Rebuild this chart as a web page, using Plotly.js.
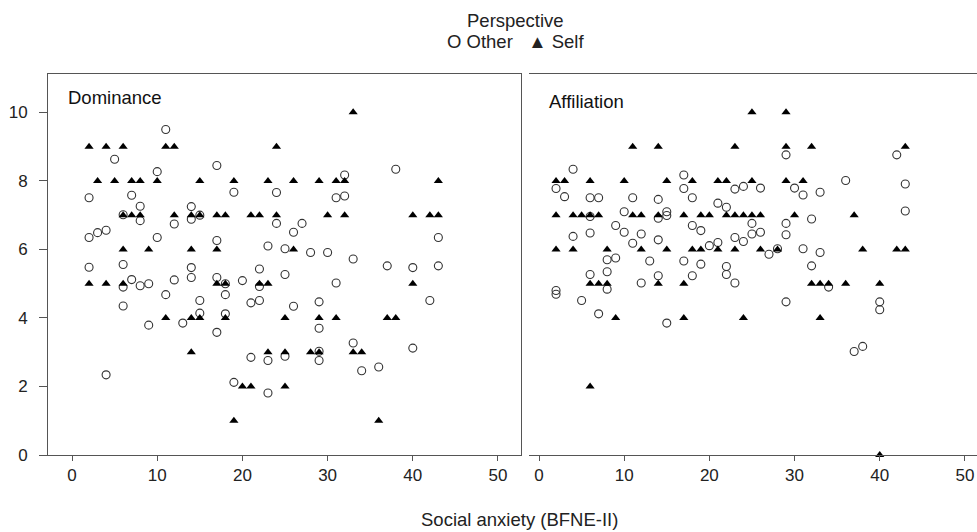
<!DOCTYPE html>
<html>
<head>
<meta charset="utf-8">
<script src="https://cdn.plot.ly/plotly-3.0.1.min.js"></script>
<style>html,body{margin:0;padding:0;background:#fff;}#chart{width:977px;height:532px;}</style>
</head>
<body>
<div id="chart"></div>
<script>
// ---------- Data ----------
// Dominance panel, Self perspective (triangles)
var domSelfX = [33,
  2,4,6,11,12,24,
  3,5,7,8,10,15,19,23,26,29,31,32,43,
  6,7,8,12,14,15,17,18,21,22,24,30,32,40,42,43,
  6,9,14,17,26,
  2,4,6,17,18,22,23,40,
  11,14,15,18,25,29,31,37,38,
  14,23,25,28,29,33,34,
  20,21,25,
  19,36];
var domSelfY = [10,
  9,9,9,9,9,9,
  8,8,8,8,8,8,8,8,8,8,8,8,8,
  7,7,7,7,7,7,7,7,7,7,7,7,7,7,7,7,
  6,6,6,6,6,
  5,5,5,5,5,5,5,5,
  4,4,4,4,4,4,4,4,4,
  3,3,3,3,3,3,3,
  2,2,2,
  1,1];

// Dominance panel, Other perspective (open circles)
var domOtherX = [2,2,2,3,4,4,5,6,6,6,6,7,7,8,8,8,9,9,10,10,11,11,12,12,13,14,14,14,14,15,15,15,
  17,17,17,17,18,18,18,19,19,20,21,21,22,22,22,23,23,23,24,24,25,25,25,26,26,27,28,
  29,29,29,29,30,31,31,32,32,33,33,34,36,37,38,40,40,42,43,43];
var domOtherY = [7.51,6.35,5.48,6.49,6.56,2.34,8.63,7.01,5.56,4.90,4.35,7.58,5.12,7.26,6.84,4.94,5.00,3.79,8.27,6.35,9.50,4.68,6.74,5.11,3.85,7.25,6.88,5.47,5.18,7.00,4.51,4.14,
  8.45,6.26,5.18,3.58,5.00,4.68,4.12,7.67,2.12,5.09,4.44,2.85,5.43,4.92,4.51,6.10,2.76,1.81,7.66,6.76,6.02,5.27,2.88,6.50,4.34,6.76,5.91,
  4.47,3.70,3.03,2.76,5.91,7.51,5.02,8.17,7.56,5.72,3.27,2.46,2.57,5.52,8.34,5.47,3.12,4.51,6.35,5.52];

// Affiliation panel, Self perspective (triangles)
var affSelfX = [25,29,
  11,14,23,29,32,43,
  2,3,6,10,15,18,21,22,25,29,31,
  2,4,5,6,7,11,12,14,17,19,20,22,23,24,25,26,30,37,
  2,4,8,12,15,18,19,21,23,26,28,38,42,43,
  6,7,8,14,17,32,33,34,36,40,
  9,17,24,33,
  6,
  40];
var affSelfY = [10,10,
  9,9,9,9,9,9,
  8,8,8,8,8,8,8,8,8,8,8,
  7,7,7,7,7,7,7,7,7,7,7,7,7,7,7,7,7,7,
  6,6,6,6,6,6,6,6,6,6,6,6,6,6,
  5,5,5,5,5,5,5,5,5,5,
  4,4,4,4,
  2,
  0];

// Affiliation panel, Other perspective (open circles)
var affOtherX = [2,2,2,3,4,4,5,6,6,6,6,7,7,8,8,8,9,9,10,10,11,11,12,12,13,14,14,14,14,15,15,15,
  17,17,17,18,18,18,19,19,20,21,21,22,22,22,23,23,23,24,24,25,25,26,26,27,28,
  29,29,29,29,30,31,31,32,32,33,33,34,36,37,38,40,40,42,43,43];
var affOtherY = [7.78,4.80,4.69,7.54,8.34,6.38,4.51,7.51,6.96,6.48,5.27,7.51,4.12,5.70,5.35,4.84,6.70,5.75,7.10,6.50,7.51,6.18,6.45,5.02,5.66,7.46,6.91,6.28,5.23,7.10,6.99,3.85,
  8.17,7.78,5.66,7.51,6.70,5.23,6.55,5.57,6.11,7.35,6.20,7.23,5.50,5.27,7.76,6.35,5.02,7.84,6.23,6.76,6.45,7.79,6.50,5.86,6.02,
  8.76,6.76,6.43,4.47,7.79,7.59,6.02,6.89,5.52,7.67,5.91,4.90,8.01,3.02,3.17,4.47,4.24,8.76,7.91,7.12];

var xTickVals = [0,10,20,30,40,50];
var yTickVals = [0,2,4,6,8,10];
var panelNames = ['Dominance','Affiliation'];
var legendTitle = 'Perspective';
var legendItems = 'O Other   \u25B2 Self';
var xTitle = 'Social anxiety (BFNE-II)';

// ---------- Plot ----------
var FONT = '"Liberation Sans", Arial, sans-serif';
var circleMarker = {symbol:'circle-open', size:8, color:'#333', line:{width:1.1, color:'#333'}};
var triMarker = {symbol:'triangle-up', size:8, color:'#000', line:{width:0}};

var traces = [
  {x:domOtherX, y:domOtherY, type:'scatter', mode:'markers', marker:circleMarker, xaxis:'x', yaxis:'y', name:'Other', showlegend:false, cliponaxis:false},
  {x:domSelfX, y:domSelfY, type:'scatter', mode:'markers', marker:triMarker, xaxis:'x', yaxis:'y', name:'Self', showlegend:false, cliponaxis:false},
  {x:affOtherX, y:affOtherY, type:'scatter', mode:'markers', marker:circleMarker, xaxis:'x2', yaxis:'y2', name:'Other', showlegend:false, cliponaxis:false},
  {x:affSelfX, y:affSelfY, type:'scatter', mode:'markers', marker:triMarker, xaxis:'x2', yaxis:'y2', name:'Self', showlegend:false, cliponaxis:false}
];

var axisCommon = {
  showgrid:false, zeroline:false, showline:true, linecolor:'#555', linewidth:1,
  ticks:'outside', tickcolor:'#555', tickwidth:1,
  tickfont:{family:FONT, size:17, color:'#222'}
};

var layout = {
  width:977, height:532,
  margin:{l:48, r:0, t:74, b:77, pad:0},
  paper_bgcolor:'#fff', plot_bgcolor:'#fff',
  showlegend:false,
  font:{family:FONT, color:'#222'},
  xaxis: Object.assign({}, axisCommon, {domain:[0,0.5096], range:[-2.82,52.75], tickvals:xTickVals, ticklen:5, mirror:true, anchor:'y'}),
  yaxis: Object.assign({}, axisCommon, {domain:[0,1], range:[0,11.12], tickvals:yTickVals, ticklen:8, mirror:true, anchor:'x', ticklabelstandoff:8}),
  xaxis2: Object.assign({}, axisCommon, {domain:[0.5178,1], range:[-1.17,51.42], tickvals:xTickVals, ticklen:5, mirror:true, anchor:'y2'}),
  yaxis2: {domain:[0,1], range:[0,11.12], anchor:'x2', showgrid:false, zeroline:false, showline:false, showticklabels:false, ticks:''},
  annotations:[
    {text:panelNames[0], xref:'paper', yref:'paper', x:0.0194, y:0.9396, xanchor:'left', yanchor:'middle', showarrow:false, font:{family:FONT, size:18.5, color:'#111'}},
    {text:panelNames[1], xref:'paper', yref:'paper', x:0.5368, y:0.9266, xanchor:'left', yanchor:'middle', showarrow:false, font:{family:FONT, size:18.5, color:'#111'}},
    {text:xTitle, xref:'paper', yref:'paper', x:(519.6-48)/929, y:-0.1706, xanchor:'center', yanchor:'middle', showarrow:false, font:{family:FONT, size:18.5, color:'#222'}},
    {text:legendTitle, xref:'paper', yref:'paper', x:(515-48)/929, y:1.1417, xanchor:'center', yanchor:'middle', showarrow:false, font:{family:FONT, size:18.5, color:'#222'}},
    {text:legendItems, xref:'paper', yref:'paper', x:(515-48)/929, y:1.0848, xanchor:'center', yanchor:'middle', showarrow:false, font:{family:FONT, size:18.5, color:'#222'}}
  ]
};

Plotly.newPlot('chart', traces, layout, {displayModeBar:false, staticPlot:true});
</script>
</body>
</html>
